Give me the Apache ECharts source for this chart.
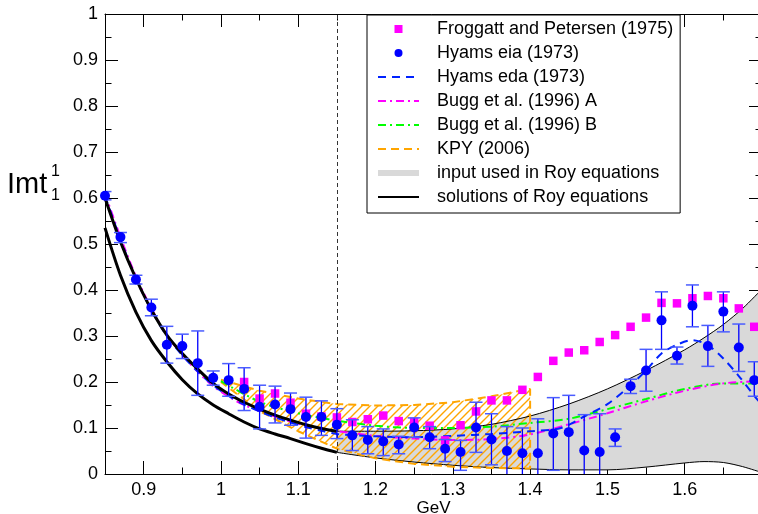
<!DOCTYPE html>
<html><head><meta charset="utf-8">
<script src="https://cdn.jsdelivr.net/npm/echarts@6/dist/echarts.min.js"></script>
<style>html,body{margin:0;padding:0;background:#fff}#c{width:758px;height:514px}</style>
</head><body><div id="c"></div>
<script>
const FONT = '"Liberation Sans", Arial, Helvetica, sans-serif';

// ---- axis ticks ----
const xMajorTicks = [0.9, 1.0, 1.1, 1.2, 1.3, 1.4, 1.5, 1.6, 1.7];
const xTickLabels = [0.9, 1.0, 1.1, 1.2, 1.3, 1.4, 1.5, 1.6];
const xMinorTicks = [0.95, 1.05, 1.15, 1.25, 1.35, 1.45, 1.55, 1.65];

// ---- Hyams eia (1973) points with errors ----
const hyamsEiaX  = [0.85,0.87,0.89,0.91,0.93,0.95,0.97,0.99,1.01,1.03,1.05,1.07,1.09,1.11,1.13,1.15,1.17,1.19,1.21,1.23,1.25,1.27,1.29,1.31,1.33,1.35,1.37,1.39,1.41,1.43,1.45,1.47,1.49,1.51,1.53,1.55,1.57,1.59,1.61,1.63,1.65,1.67,1.69];
const hyamsEiaY  = [0.605,0.515,0.423,0.362,0.281,0.278,0.241,0.209,0.204,0.185,0.146,0.151,0.141,0.124,0.124,0.107,0.084,0.074,0.071,0.064,0.101,0.080,0.055,0.048,0.101,0.075,0.050,0.045,0.045,0.088,0.091,0.051,0.048,0.080,0.191,0.225,0.334,0.257,0.366,0.278,0.353,0.275,0.204];
const hyamsEiaHi = [0.614,0.525,0.432,0.380,0.321,0.304,0.311,0.224,0.240,0.231,0.193,0.191,0.176,0.167,0.159,0.142,0.118,0.103,0.098,0.082,0.122,0.103,0.075,0.073,0.156,0.131,0.103,0.100,0.120,0.166,0.171,0.129,0.131,0.098,0.206,0.271,0.396,0.276,0.411,0.323,0.396,0.326,0.244];
const hyamsEiaLo = [0.596,0.503,0.413,0.344,0.241,0.251,0.171,0.193,0.169,0.138,0.098,0.111,0.106,0.078,0.084,0.077,0.051,0.044,0.040,0.044,0.080,0.055,0.027,0.008,0.047,0.020,-0.03,-0.03,-0.03,0.008,-0.03,-0.03,-0.03,0.060,0.175,0.180,0.271,0.239,0.320,0.234,0.309,0.223,0.169];

// ---- Froggatt and Petersen (1975) ----
const froggattX = [1.03,1.05,1.07,1.09,1.11,1.13,1.15,1.17,1.19,1.21,1.23,1.25,1.27,1.29,1.31,1.33,1.35,1.37,1.39,1.41,1.43,1.45,1.47,1.49,1.51,1.53,1.55,1.57,1.59,1.61,1.63,1.65,1.67,1.69];
const froggattY = [0.200,0.164,0.175,0.155,0.131,0.125,0.123,0.113,0.119,0.127,0.115,0.113,0.105,0.073,0.106,0.136,0.160,0.160,0.183,0.211,0.246,0.264,0.269,0.287,0.302,0.320,0.340,0.372,0.371,0.382,0.387,0.382,0.360,0.320];

// ---- Hyams eda (1973) ----
const edaX = [0.85,0.87,0.89,0.91,0.93,0.95,0.97,0.99,1.01,1.03,1.05,1.07,1.09,1.11,1.13,1.15,1.2,1.25,1.3,1.35,1.4,1.44,1.47,1.5,1.53,1.55,1.57,1.59,1.61,1.63,1.65,1.67,1.69,1.7];
const edaY = [0.605,0.510,0.425,0.356,0.300,0.258,0.223,0.193,0.170,0.151,0.136,0.123,0.112,0.102,0.094,0.087,0.082,0.080,0.083,0.087,0.093,0.100,0.125,0.152,0.193,0.225,0.262,0.281,0.291,0.280,0.251,0.213,0.170,0.150];

// ---- Bugg et al. (1996) A / B ----
const buggAX = [0.85,0.87,0.89,0.91,0.93,0.95,0.97,0.99,1.01,1.03,1.05,1.07,1.09,1.11,1.13,1.15,1.2,1.25,1.3,1.35,1.4,1.45,1.5,1.55,1.6,1.65,1.7];
const buggAY = [0.610,0.515,0.430,0.360,0.302,0.259,0.222,0.191,0.168,0.150,0.137,0.125,0.114,0.105,0.098,0.093,0.083,0.077,0.074,0.076,0.086,0.108,0.132,0.158,0.181,0.197,0.202];
const buggBX = [1.0,1.05,1.1,1.15,1.2,1.25,1.3,1.35,1.4,1.45,1.5,1.55,1.6,1.65,1.7];
const buggBY = [0.202,0.157,0.132,0.116,0.105,0.100,0.100,0.103,0.111,0.120,0.141,0.163,0.185,0.197,0.197];

// ---- KPY (2006) band ----
const kpyX  = [1.0,1.05,1.1,1.15,1.2,1.25,1.3,1.35,1.4];
const kpyUp = [0.205,0.181,0.164,0.152,0.149,0.150,0.156,0.169,0.185];
const kpyLo = [0.200,0.137,0.093,0.055,0.034,0.022,0.016,0.013,0.012];

// ---- solutions of Roy equations (two thick curves) ----
const solX   = [0.85,0.87,0.89,0.91,0.93,0.95,0.97,0.99,1.01,1.03,1.05,1.07,1.09,1.11,1.13,1.15];
const solUpY = [0.600,0.505,0.425,0.357,0.302,0.262,0.228,0.197,0.174,0.156,0.141,0.128,0.117,0.107,0.099,0.093];
const solLoY = [0.535,0.432,0.352,0.290,0.244,0.205,0.174,0.150,0.131,0.113,0.098,0.087,0.077,0.066,0.056,0.047];

// ---- input used in Roy equations (grey band) ----
const bandX  = [1.15,1.2,1.25,1.3,1.35,1.4,1.45,1.5,1.55,1.6,1.625,1.65,1.675,1.7];
const bandUp = [0.093,0.093,0.094,0.098,0.108,0.126,0.152,0.185,0.225,0.270,0.296,0.325,0.360,0.402];
const bandLo = [0.047,0.035,0.026,0.019,0.014,0.011,0.009,0.009,0.015,0.024,0.027,0.025,0.016,0.003];

const matchX = 1.15;

const zip = (xs, ys) => xs.map((x, i) => [x, ys[i]]);

// hatch pattern
const hatch = document.createElement('canvas');
hatch.width = 8; hatch.height = 8;
(function () {
  const g = hatch.getContext('2d');
  g.strokeStyle = '#ffa500'; g.lineWidth = 1.4;
  g.beginPath();
  g.moveTo(-1, 9); g.lineTo(9, -1);
  g.moveTo(-1, 1); g.lineTo(1, -1);
  g.moveTo(7, 9); g.lineTo(9, 7);
  g.stroke();
})();

function bandRenderer(xs, up, lo, fill) {
  return function (params, api) {
    if (params.dataIndex > 0) return null;
    const pts = [];
    for (let i = 0; i < xs.length; i++) pts.push(api.coord([xs[i], up[i]]));
    for (let i = xs.length - 1; i >= 0; i--) pts.push(api.coord([xs[i], lo[i]]));
    return { type: 'polygon', shape: { points: pts }, style: { fill: fill, stroke: null } };
  };
}

const fmt = v => String(+(+v).toFixed(2));
const axisCommon = { type: 'value', min: 0.85, max: 1.7, splitLine: { show: false } };
const noSym = { opacity: 0 };

const chart = echarts.init(document.getElementById('c'));
chart.setOption({
  animation: false,
  backgroundColor: '#fff',
  textStyle: { fontFamily: FONT },
  grid: { left: 105, right: -4, top: 14, bottom: 40, outerBoundsMode: 'none', containLabel: false },
  xAxis: [
    Object.assign({}, axisCommon, {
      position: 'bottom',
      axisLine: { lineStyle: { color: '#000', width: 1 } },
      axisTick: { inside: true, length: 13, lineStyle: { color: '#000' }, customValues: xMajorTicks },
      axisLabel: { customValues: xTickLabels, formatter: fmt, color: '#000', fontSize: 18, margin: 7, fontFamily: FONT },
      name: 'GeV', nameLocation: 'middle', nameGap: 34, nameMoveOverlap: false,
      nameTextStyle: { color: '#000', fontSize: 17, fontFamily: FONT, verticalAlign: 'middle' }
    }),
    Object.assign({}, axisCommon, {
      position: 'bottom', axisLine: { show: false },
      axisTick: { inside: true, length: 6.5, lineStyle: { color: '#000' }, customValues: xMinorTicks },
      axisLabel: { show: false }
    }),
    Object.assign({}, axisCommon, {
      position: 'top',
      axisLine: { lineStyle: { color: '#000', width: 1 } },
      axisTick: { inside: true, length: 13, lineStyle: { color: '#000' }, customValues: xMajorTicks },
      axisLabel: { show: false }
    }),
    Object.assign({}, axisCommon, {
      position: 'top', axisLine: { show: false },
      axisTick: { inside: true, length: 6.5, lineStyle: { color: '#000' }, customValues: xMinorTicks },
      axisLabel: { show: false }
    })
  ],
  yAxis: [
    {
      type: 'value', min: 0, max: 1, interval: 0.1, position: 'left',
      axisLine: { show: true, lineStyle: { color: '#000', width: 1 } },
      axisTick: { inside: true, length: 13, lineStyle: { color: '#000' } },
      minorTick: { show: true, splitNumber: 2, length: 6.5, lineStyle: { color: '#000' } },
      axisLabel: { formatter: fmt, color: '#000', fontSize: 18, margin: 7, fontFamily: FONT },
      splitLine: { show: false }, minorSplitLine: { show: false }
    },
    {
      type: 'value', min: 0, max: 1, interval: 0.1, position: 'right',
      axisLine: { show: true, lineStyle: { color: '#000', width: 1 } },
      axisTick: { inside: true, length: 13, lineStyle: { color: '#000' } },
      minorTick: { show: true, splitNumber: 2, length: 6.5, lineStyle: { color: '#000' } },
      axisLabel: { show: false },
      splitLine: { show: false }, minorSplitLine: { show: false }
    }
  ],
  legend: {
    orient: 'vertical', left: 367, top: 15,
    padding: [5, 7, 7, 10],
    itemWidth: 41, itemHeight: 10, itemGap: 6,
    borderColor: '#000', borderWidth: 1, backgroundColor: '#fff',
    selectedMode: false,
    textStyle: { fontSize: 18, lineHeight: 18, color: '#000', fontFamily: FONT, padding: [0, 0, 0, 13] },
    data: [
      'Froggatt and Petersen (1975)',
      'Hyams eia (1973)',
      { name: 'Hyams eda (1973)', itemStyle: noSym },
      { name: 'Bugg et al. (1996) A', itemStyle: noSym },
      { name: 'Bugg et al. (1996) B', itemStyle: noSym },
      { name: 'KPY (2006)', itemStyle: noSym },
      { name: 'input used in Roy equations', icon: 'path://M0,0h42v6h-42z', itemStyle: { color: '#d9d9d9' } },
      { name: 'solutions of Roy equations', itemStyle: noSym }
    ]
  },
  graphic: [
    { type: 'text', x: 7, y: 185, style: { text: 'Imt', font: '29px ' + FONT, fill: '#000', verticalAlign: 'middle' } },
    { type: 'text', x: 51, y: 172, style: { text: '1', font: '16px ' + FONT, fill: '#000', verticalAlign: 'middle' } },
    { type: 'text', x: 51, y: 196, style: { text: '1', font: '16px ' + FONT, fill: '#000', verticalAlign: 'middle' } }
  ],
  series: [
    {
      type: 'custom', name: 'input used in Roy equations', itemStyle: { color: '#d9d9d9' },
      data: [[bandX[0], bandUp[0]]], encode: { x: 0, y: 1 },
      renderItem: bandRenderer(bandX, bandUp, bandLo, '#d9d9d9'), silent: true, z: 1
    },
    {
      type: 'custom', name: 'KPY hatch',
      data: [[kpyX[0], kpyUp[0]]], encode: { x: 0, y: 1 },
      renderItem: bandRenderer(kpyX, kpyUp, kpyLo, { image: hatch, repeat: 'repeat' }), silent: true, z: 1
    },
    { type: 'line', name: 'band edge', data: zip(bandX, bandUp), symbol: 'none', smooth: 0.3,
      lineStyle: { color: '#000', width: 1 }, z: 2 },
    { type: 'line', name: 'band edge', data: zip(bandX, bandLo), symbol: 'none', smooth: 0.3,
      lineStyle: { color: '#000', width: 1 }, z: 2 },
    { type: 'line', name: 'KPY (2006)', symbol: 'none',
      data: zip(kpyX, kpyUp).concat(zip(kpyX, kpyLo).reverse()),
      itemStyle: { color: '#ffa500' },
      lineStyle: { color: '#ffa500', width: 2, type: [8, 5] }, z: 3 },
    { type: 'line', name: 'Bugg et al. (1996) B', data: zip(buggBX, buggBY), symbol: 'none', smooth: 0.3,
      itemStyle: { color: '#00ff00' },
      lineStyle: { color: '#00ff00', width: 2, type: [8, 4, 2, 4] }, z: 3 },
    { type: 'line', name: 'Bugg et al. (1996) A', data: zip(buggAX, buggAY), symbol: 'none', smooth: 0.3,
      itemStyle: { color: '#ff00ff' },
      lineStyle: { color: '#ff00ff', width: 2, type: [8, 4, 2, 4] }, z: 3 },
    { type: 'line', name: 'Hyams eda (1973)', data: zip(edaX, edaY), symbol: 'none', smooth: 0.3,
      itemStyle: { color: '#0022ff' },
      lineStyle: { color: '#0022ff', width: 2, type: [8, 6] }, z: 3 },
    { type: 'line', name: 'solutions of Roy equations', data: zip(solX, solUpY), symbol: 'none', smooth: 0.3,
      itemStyle: { color: '#000' },
      lineStyle: { color: '#000', width: 3 }, z: 4,
      markLine: {
        silent: true, symbol: ['none', 'none'], label: { show: false },
        lineStyle: { color: '#333', width: 1, type: [4, 3] },
        data: [{ xAxis: matchX }]
      }
    },
    { type: 'line', name: 'solutions of Roy equations', data: zip(solX, solLoY), symbol: 'none', smooth: 0.3,
      itemStyle: { color: '#000' },
      lineStyle: { color: '#000', width: 3 }, z: 4 },
    { type: 'line', name: 'Froggatt and Petersen (1975)', data: zip(froggattX, froggattY),
      symbol: 'rect', symbolSize: 8.5, showSymbol: true,
      itemStyle: { color: '#ff00ff', borderWidth: 0 },
      lineStyle: { width: 0, opacity: 0 }, z: 5 },
    {
      type: 'custom', name: 'eia errors', clip: true, z: 6,
      data: hyamsEiaX.map((x, i) => [x, hyamsEiaLo[i], hyamsEiaHi[i]]),
      encode: { x: 0, y: [1, 2] },
      renderItem: function (params, api) {
        const x = api.value(0), lo = api.value(1), hi = api.value(2);
        const pl = api.coord([x, lo]), ph = api.coord([x, hi]);
        const w = 6.5;
        const ch = [
          { type: 'line', shape: { x1: pl[0], y1: pl[1], x2: ph[0], y2: ph[1] }, style: { stroke: '#0000ff', lineWidth: 1.3 } },
          { type: 'line', shape: { x1: ph[0] - w, y1: ph[1], x2: ph[0] + w, y2: ph[1] }, style: { stroke: '#4a5cff', lineWidth: 1.5 } }
        ];
        if (lo > 0) ch.push({ type: 'line', shape: { x1: pl[0] - w, y1: pl[1], x2: pl[0] + w, y2: pl[1] }, style: { stroke: '#4a5cff', lineWidth: 1.5 } });
        return { type: 'group', children: ch };
      }
    },
    { type: 'line', name: 'Hyams eia (1973)', data: zip(hyamsEiaX, hyamsEiaY),
      symbol: 'circle', symbolSize: 10, showSymbol: true,
      itemStyle: { color: '#0000ff', borderWidth: 0 },
      lineStyle: { width: 0, opacity: 0 }, z: 7 }
  ]
});
</script>
</body></html>
